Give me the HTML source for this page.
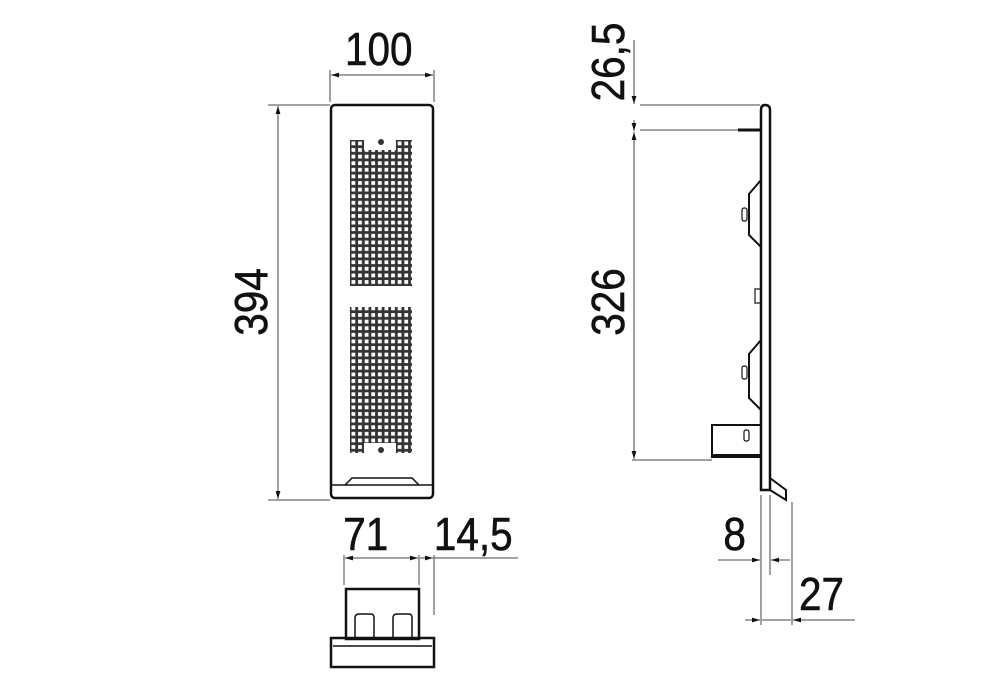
<html><head><style>body{margin:0;background:#fff}svg{display:block}text{font-family:"Liberation Sans",sans-serif;font-size:46px;fill:#111;stroke:#111;stroke-width:0.6}</style></head><body>
<svg width="1000" height="681" viewBox="0 0 1000 681" xmlns="http://www.w3.org/2000/svg">
<defs>
<pattern id="g" x="350" y="140" width="6.6" height="6.6" patternUnits="userSpaceOnUse">
<rect width="6.6" height="6.6" fill="#333"/><rect x="1.5" y="1.5" width="3.8" height="3.8" fill="#fff"/></pattern>
<marker id="a" viewBox="0 0 10 10" refX="10" refY="5" markerWidth="8" markerHeight="8" orient="auto-start-reverse"><path d="M0,2L10,5L0,8z" fill="#111"/></marker>
</defs>
<g stroke="#111" fill="none">
<rect x="331" y="105" width="102" height="393" rx="4" stroke-width="2.5"/>
<path d="M331,485H433M345,485L352,478H412L419,485" stroke-width="1.5"/>
<rect x="350" y="140" width="62" height="146" fill="url(#g)" stroke="none"/>
<rect x="364" y="140" width="32" height="10" fill="#fff" stroke="none"/>
<rect x="350" y="307" width="62" height="146" fill="url(#g)" stroke="none"/>
<rect x="364" y="443" width="32" height="10" fill="#fff" stroke="none"/>
<circle cx="381" cy="142" r="3" fill="#333" stroke="none"/><circle cx="381" cy="450" r="3" fill="#333" stroke="none"/>
<g stroke-width="1" stroke="#444">
<path d="M330,70V102M434,70V102"/><path d="M331,75H433" marker-start="url(#a)" marker-end="url(#a)"/>
<path d="M268,105H330M268,500H330"/><path d="M278,106V499" marker-start="url(#a)" marker-end="url(#a)"/>
<path d="M344,555V585M419,555V585M434,555V615"/>
<path d="M345,558H418" marker-start="url(#a)" marker-end="url(#a)"/>
<path d="M434,558H518"/><path d="M420,558H433" marker-end="url(#a)"/>
</g>
<rect x="346" y="589" width="73" height="50" stroke-width="2.5"/>
<rect x="331" y="638" width="103" height="29" stroke-width="2.5"/>
<path d="M333,646H432" stroke-width="1.5"/>
<path d="M355,639V618Q355,614 359,614H371Q374,614 374,618V639M393,639V618Q393,614 397,614H409Q412,614 412,618V639" stroke-width="1.5"/>
<path d="M761,490V110Q761,105 765,105Q770,105 770,110V490Z" stroke-width="2.5"/>
<path d="M738,130H761" stroke-width="3"/>
<path d="M761,180L749,194V235L761,247M761,340L749,354V398L761,410" stroke-width="2"/>
<rect x="742" y="208" width="5" height="13" rx="2" stroke-width="1.2"/>
<rect x="742" y="366" width="5" height="13" rx="2" stroke-width="1.2"/>
<rect x="755" y="289" width="6" height="14" stroke-width="1.2"/>
<path d="M761,425H712V457H761M712,455H761" stroke-width="2"/>
<rect x="744" y="430" width="5" height="11" rx="2" stroke-width="1.2"/>
<path d="M770,478L786,490V500L770,490" stroke-width="2"/>
<g stroke-width="1" stroke="#444">
<path d="M640,105H760M640,130H738M632,460H712"/>
<path d="M634,40V104" marker-end="url(#a)"/><path d="M634,120V131" marker-end="url(#a)"/>
<path d="M634,132V459" marker-start="url(#a)" marker-end="url(#a)"/>
<path d="M761,495V625M770,495V575M792,502V625"/>
<path d="M718,560H760" marker-end="url(#a)"/><path d="M790,560H771" marker-end="url(#a)"/>
<path d="M745,620H760" marker-end="url(#a)"/><path d="M855,620H793" marker-end="url(#a)"/>
<path d="M762,620H791"/>
</g>
</g>
<g transform="scale(0.88,1)">
<text x="392" y="65">100</text>
<text x="390" y="550">71</text>
<text x="493" y="550">14,5</text>
<text x="822" y="550">8</text>
<text x="908" y="610">27</text>
</g>
<text transform="translate(267,302) rotate(-90) scale(0.88,1)" text-anchor="middle">394</text>
<text transform="translate(624,302) rotate(-90) scale(0.88,1)" text-anchor="middle">326</text>
<text transform="translate(624,62) rotate(-90) scale(0.88,1)" text-anchor="middle">26,5</text>
</svg></body></html>
